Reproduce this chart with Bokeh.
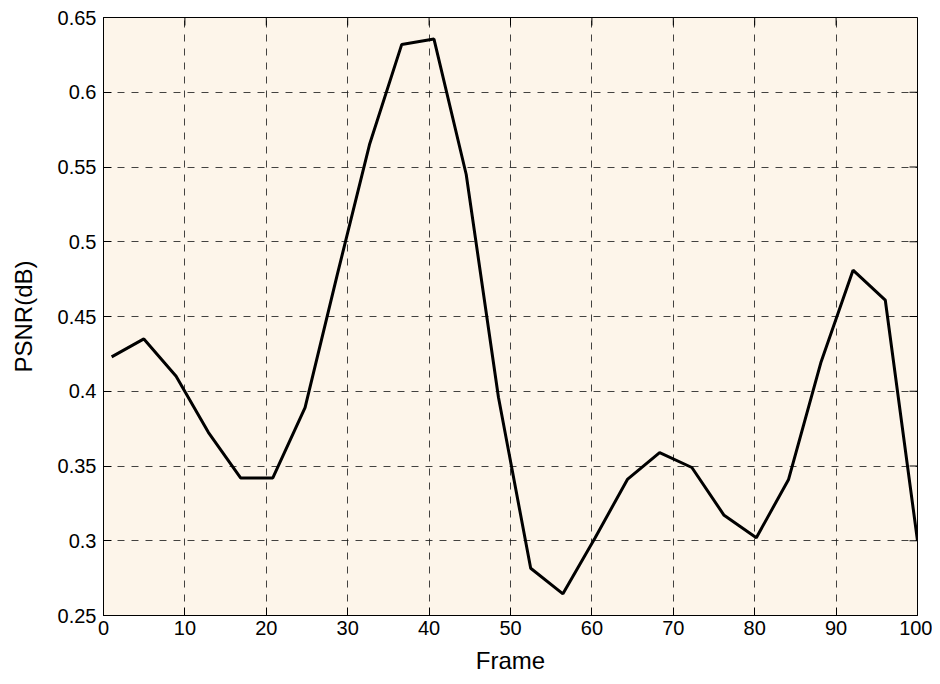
import math
from bokeh.plotting import figure
from bokeh.models import FixedTicker, Range1d
from bokeh.embed import file_html
from bokeh.resources import INLINE

frames = [1, 4.96, 8.92, 12.88, 16.84, 20.8, 24.76, 28.72, 32.68, 36.64, 40.6, 44.56,
          48.52, 52.48, 56.44, 60.4, 64.36, 68.32, 72.28, 76.24, 80.2, 84.16, 88.12,
          92.08, 96.04, 100]
psnr = [0.423, 0.435, 0.410, 0.3725, 0.342, 0.342, 0.389, 0.478, 0.565, 0.632, 0.6356,
        0.545, 0.396, 0.2816, 0.2645, 0.302, 0.341, 0.359, 0.349, 0.317, 0.302, 0.341,
        0.419, 0.481, 0.461, 0.300]

x_ticks = [0, 10, 20, 30, 40, 50, 60, 70, 80, 90, 100]
x_tick_labels = ["0", "10", "20", "30", "40", "50", "60", "70", "80", "90", "100"]
y_ticks = [0.25, 0.3, 0.35, 0.4, 0.45, 0.5, 0.55, 0.6, 0.65]
y_tick_labels = ["0.25", "0.3", "0.35", "0.4", "0.45", "0.5", "0.55", "0.6", "0.65"]

FONT = "Liberation Sans"
X_MIN, X_MAX = 0, 100
Y_MIN, Y_MAX = 0.25, 0.65

p = figure(width=932, height=676, output_backend="svg", toolbar_location=None,
           x_range=Range1d(X_MIN, X_MAX), y_range=Range1d(Y_MIN, Y_MAX),
           min_border_left=103, min_border_right=15, min_border_top=17, min_border_bottom=61,
           x_axis_label="Frame", y_axis_label="PSNR(dB)")

p.background_fill_color = "#FDF5EA"
p.border_fill_color = "white"
p.outline_line_color = "black"
p.outline_line_width = 1

for ax, ticks, labels in ((p.xaxis[0], x_ticks, x_tick_labels), (p.yaxis[0], y_ticks, y_tick_labels)):
    ax.ticker = FixedTicker(ticks=ticks)
    ax.major_label_overrides = {t: l for t, l in zip(ticks, labels)}
    ax.major_tick_in = 8
    ax.major_tick_out = 0
    ax.minor_tick_in = 0
    ax.minor_tick_out = 0
    ax.axis_line_color = "black"
    ax.major_tick_line_color = "black"
    ax.major_label_text_font = FONT
    ax.major_label_text_font_size = "20px"
    ax.major_label_text_color = "black"
    ax.axis_label_text_font = FONT
    ax.axis_label_text_font_size = "24px"
    ax.axis_label_text_font_style = "normal"
    ax.axis_label_text_color = "black"

p.xaxis.major_label_standoff = 5
p.xaxis.axis_label_standoff = 9
p.yaxis.major_label_standoff = 7
p.yaxis.axis_label_standoff = 18

for g, ticks in ((p.xgrid[0], x_ticks), (p.ygrid[0], y_ticks)):
    g.ticker = FixedTicker(ticks=ticks)
    g.grid_line_color = "#222222"
    g.grid_line_alpha = 0.85
    g.grid_line_dash = "7 7"
    g.grid_line_width = 1

# inward ticks on the top and right edges (box on)
p.ray(x=[X_MAX] * len(y_ticks), y=y_ticks, length=8, length_units="screen",
      angle=math.pi, line_color="black", line_width=1)
p.ray(x=x_ticks, y=[Y_MAX] * len(x_ticks), length=8, length_units="screen",
      angle=-math.pi / 2, line_color="black", line_width=1)

p.line(frames, psnr, line_color="black", line_width=3)

open("out.html", "w").write(file_html(p, INLINE))
